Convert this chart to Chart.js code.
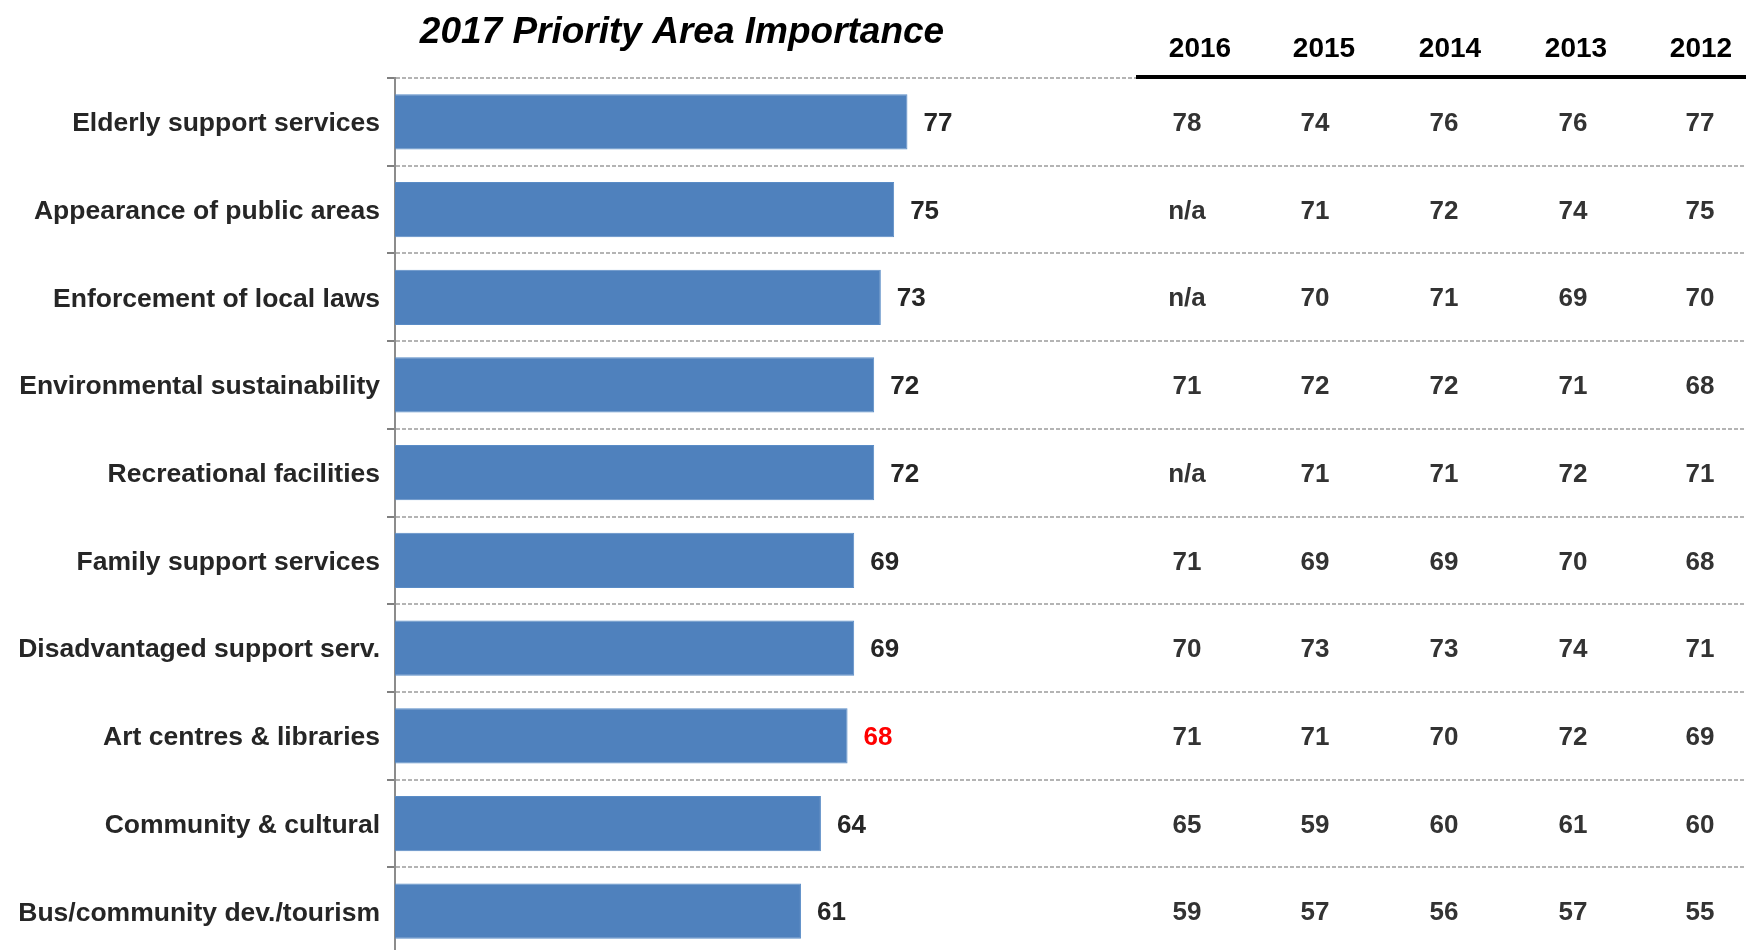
<!DOCTYPE html>
<html>
<head>
<meta charset="utf-8">
<script src="https://cdn.jsdelivr.net/npm/chart.js@4.4.0/dist/chart.umd.min.js"></script>
<style>
  html, body { margin: 0; padding: 0; background: #fff; overflow: hidden; }
  #wrap { width: 1746px; height: 950px; overflow: hidden; }
</style>
</head>
<body>
<div id="wrap"><canvas id="priorityChart"></canvas></div>
<script>
// 2017 importance scores, plus the previous years for the table on the right
var areas = [
  'Elderly support services',
  'Appearance of public areas',
  'Enforcement of local laws',
  'Environmental sustainability',
  'Recreational facilities',
  'Family support services',
  'Disadvantaged support serv.',
  'Art centres & libraries',
  'Community & cultural',
  'Bus/community dev./tourism'
];
var scores2017 = [77, 75, 73, 72, 72, 69, 69, 68, 64, 61];
var flagged = [false, false, false, false, false, false, false, true, false, false];

var years = ['2016', '2015', '2014', '2013', '2012'];
var scores2016 = [78, null, null, 71, null, 71, 70, 71, 65, 59];
var scores2015 = [74, 71, 70, 72, 71, 69, 73, 71, 59, 57];
var scores2014 = [76, 72, 71, 72, 71, 69, 73, 70, 60, 56];
var scores2013 = [76, 74, 69, 71, 72, 70, 74, 72, 61, 57];
var scores2012 = [77, 75, 70, 68, 71, 68, 71, 69, 60, 55];
var pastScores = [scores2016, scores2015, scores2014, scores2013, scores2012];

var FONT = '"Liberation Sans", Arial, sans-serif';

var canvas = document.getElementById('priorityChart');
canvas.width = 1746;
canvas.height = 978;
var ctx = canvas.getContext('2d');

var chartText = {
  id: 'chartText',
  afterDatasetsDraw(chart) {
    const {ctx, scales: {y}} = chart;
    ctx.save();

    // title
    ctx.font = 'italic bold 37px ' + FONT;
    ctx.fillStyle = '#000';
    ctx.textAlign = 'center';
    ctx.textBaseline = 'middle';
    ctx.fillText('2017 Priority Area Importance', 682, 33);

    // values at the end of the bars
    ctx.font = 'bold 26px ' + FONT;
    ctx.textAlign = 'left';
    const bars = chart.getDatasetMeta(0).data;
    bars.forEach((bar, i) => {
      ctx.fillStyle = flagged[i] ? '#ff0000' : '#262626';
      ctx.fillText(scores2017[i], bar.x + 16, bar.y + 2);
    });

    // table header with the black rule under it
    const headX = [1200, 1324, 1450, 1576, 1701];
    const colX = [1187, 1315, 1444, 1573, 1700];
    ctx.fillStyle = '#000';
    ctx.font = 'bold 28px ' + FONT;
    ctx.textAlign = 'center';
    years.forEach((yr, c) => ctx.fillText(yr, headX[c], 49));
    ctx.fillRect(1136, 75, chart.width - 1136, 4);

    // previous years
    ctx.font = 'bold 26px ' + FONT;
    ctx.fillStyle = '#333333';
    pastScores.forEach((col, c) => {
      col.forEach((v, i) => {
        ctx.fillText(v === null ? 'n/a' : v, colX[c], y.getPixelForValue(i) + 2);
      });
    });
    ctx.restore();
  }
};

var chart = new Chart(ctx, {
  type: 'bar',
  data: {
    labels: areas,
    datasets: [{
      data: scores2017,
      backgroundColor: '#4f81bd',
      borderColor: '#5a8cc6',
      borderWidth: 1,
      barPercentage: 0.63,
      categoryPercentage: 1
    }]
  },
  options: {
    indexAxis: 'y',
    responsive: false,
    animation: false,
    layout: { padding: { top: 78, bottom: 1, left: 0, right: 0 } },
    plugins: {
      legend: { display: false },
      tooltip: { enabled: false }
    },
    scales: {
      x: {
        display: false,
        min: 0,
        max: 203
      },
      y: {
        grid: {
          offset: true,
          color: '#b4b4b4',
          lineWidth: 2,
          drawTicks: true,
          tickLength: 8,
          tickColor: '#808080',
          tickWidth: 2
        },
        border: { display: true, color: '#8c8c8c', width: 2, dash: [4, 2] },
        ticks: {
          padding: 7,
          labelOffset: 2,
          color: '#262626',
          font: { family: FONT, size: 26.5, weight: 'bold' }
        },
        afterFit(scale) { scale.width = 395; }
      }
    }
  },
  plugins: [chartText]
});
</script>
</body>
</html>
